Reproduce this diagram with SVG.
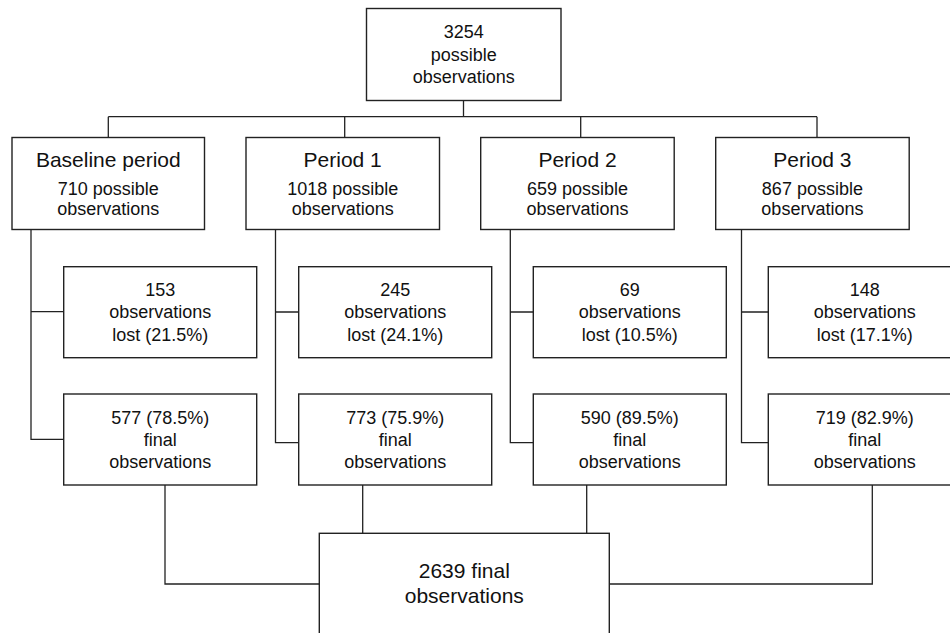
<svg xmlns="http://www.w3.org/2000/svg" width="950" height="633" viewBox="0 0 950 633">
<style>
.box{fill:#fff;stroke:#222;stroke-width:1.4}
.ln{fill:none;stroke:#222;stroke-width:1.3}
text{font-family:"Liberation Sans",Arial,Helvetica,sans-serif;font-size:18px;fill:#111;text-anchor:middle}
.big{font-size:21px}
.bot{font-size:21px}
</style>
<rect width="950" height="633" fill="#fff"/>
<g id="connectors">
<path class="ln" d="M463.5 100.5V116.7M108.3 116.7H817M108.3 116.7V137.3M344.7 116.7V137.3M580.7 116.7V137.3M817 116.7V137.3"/>
<path class="ln" d="M31 229.3V439.3H63.7M31 311.7H63.7"/>
<path class="ln" d="M275.5 229.3V442.7H298.7M275.5 312H298.7"/>
<path class="ln" d="M510.3 229.3V442.7H533.3M510.3 312H533.3"/>
<path class="ln" d="M741.5 229.3V442.7H768.3M741.5 312H768.3"/>
<path class="ln" d="M165 485V584H319.3M362.7 485V533.3M586.7 485V533.3M872.3 485V584H609.3"/>
</g>
<g id="total">
<rect class="box" x="366.5" y="8.5" width="194.5" height="92"/>
<text x="463.75" y="38">3254</text>
<text x="463.75" y="60.5">possible</text>
<text x="463.75" y="83">observations</text>
</g>
<g id="baseline">
<rect class="box" x="12" y="137.5" width="192.5" height="92"/>
<text class="big" x="108.3" y="166.7">Baseline period</text>
<text x="108.3" y="195">710 possible</text>
<text x="108.3" y="215">observations</text>
</g>
<g id="period1">
<rect class="box" x="246" y="137.5" width="193.5" height="92"/>
<text class="big" x="342.7" y="166.7">Period 1</text>
<text x="342.7" y="195">1018 possible</text>
<text x="342.7" y="215">observations</text>
</g>
<g id="period2">
<rect class="box" x="480.7" y="137.5" width="193.5" height="92"/>
<text class="big" x="577.5" y="166.7">Period 2</text>
<text x="577.5" y="195">659 possible</text>
<text x="577.5" y="215">observations</text>
</g>
<g id="period3">
<rect class="box" x="715.7" y="137.5" width="193.5" height="92"/>
<text class="big" x="812.4" y="166.7">Period 3</text>
<text x="812.4" y="195">867 possible</text>
<text x="812.4" y="215">observations</text>
</g>
<g id="lost0">
<rect class="box" x="63.7" y="266.7" width="193" height="91"/>
<text x="160.2" y="295.7">153</text>
<text x="160.2" y="318.3">observations</text>
<text x="160.2" y="341">lost (21.5%)</text>
</g>
<g id="lost1">
<rect class="box" x="298.7" y="266.7" width="193" height="91"/>
<text x="395.2" y="295.7">245</text>
<text x="395.2" y="318.3">observations</text>
<text x="395.2" y="341">lost (24.1%)</text>
</g>
<g id="lost2">
<rect class="box" x="533.3" y="266.7" width="193" height="91"/>
<text x="629.8" y="295.7">69</text>
<text x="629.8" y="318.3">observations</text>
<text x="629.8" y="341">lost (10.5%)</text>
</g>
<g id="lost3">
<rect class="box" x="768.3" y="266.7" width="193" height="91"/>
<text x="864.8" y="295.7">148</text>
<text x="864.8" y="318.3">observations</text>
<text x="864.8" y="341">lost (17.1%)</text>
</g>
<g id="final0">
<rect class="box" x="63.7" y="394" width="193" height="91"/>
<text x="160.2" y="424.3">577 (78.5%)</text>
<text x="160.2" y="446">final</text>
<text x="160.2" y="468.3">observations</text>
</g>
<g id="final1">
<rect class="box" x="298.7" y="394" width="193" height="91"/>
<text x="395.2" y="424.3">773 (75.9%)</text>
<text x="395.2" y="446">final</text>
<text x="395.2" y="468.3">observations</text>
</g>
<g id="final2">
<rect class="box" x="533.3" y="394" width="193" height="91"/>
<text x="629.8" y="424.3">590 (89.5%)</text>
<text x="629.8" y="446">final</text>
<text x="629.8" y="468.3">observations</text>
</g>
<g id="final3">
<rect class="box" x="768.3" y="394" width="193" height="91"/>
<text x="864.8" y="424.3">719 (82.9%)</text>
<text x="864.8" y="446">final</text>
<text x="864.8" y="468.3">observations</text>
</g>
<g id="grandtotal">
<rect class="box" x="319.3" y="533.3" width="290" height="130"/>
<text class="bot" x="464.3" y="578.3">2639 final</text>
<text class="bot" x="464.3" y="603.3">observations</text>
</g>
</svg>
